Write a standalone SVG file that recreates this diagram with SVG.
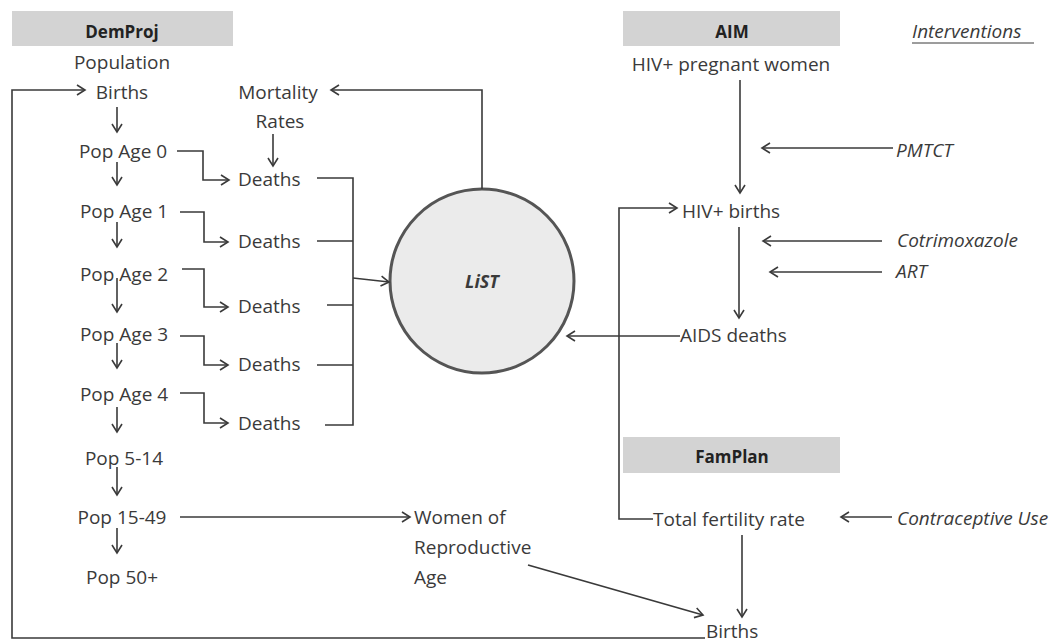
<svg xmlns="http://www.w3.org/2000/svg" width="1063" height="644" viewBox="0 0 1063 644">
<style>
text{font-family:"Open Sans","Liberation Sans",sans-serif;font-size:19px;fill:#3a3a3a}
.c{text-anchor:middle}
.h{font-weight:bold;font-size:17px;fill:#222}
.i{font-style:italic}
.hdr{fill:#d3d3d3}
.ln{fill:none;stroke:#3a3a3a;stroke-width:1.6}
</style>
<defs>
<marker id="a" markerUnits="userSpaceOnUse" markerWidth="12" markerHeight="14" refX="9" refY="6" orient="auto">
<path d="M1,1 L9,6 L1,11" fill="none" stroke="#3a3a3a" stroke-width="1.6"/>
</marker>
</defs>
<rect width="1063" height="644" fill="#fff"/>
<g id="demproj"><rect class="hdr" x="12" y="11" width="221" height="35"/><text class="c h" x="122" y="38">DemProj</text></g>
<g id="aim"><rect class="hdr" x="623" y="11" width="217" height="35"/><text class="c h" x="732" y="38">AIM</text></g>
<g id="famplan"><rect class="hdr" x="623" y="437" width="217" height="36"/><text class="c h" x="732" y="463">FamPlan</text></g>
<g id="interventions"><text class="i" x="912" y="38">Interventions</text><line x1="912" y1="43" x2="1034" y2="43" stroke="#3a3a3a" stroke-width="1"/></g>
<g id="population"><text class="c" x="122" y="69">Population</text></g>
<g id="births-top"><text class="c" x="122" y="99">Births</text></g>
<g id="pop0"><text class="c" x="123" y="158">Pop Age 0</text></g>
<g id="pop1"><text class="c" x="124" y="218">Pop Age 1</text></g>
<g id="pop2"><text class="c" x="124" y="281">Pop Age 2</text></g>
<g id="pop3"><text class="c" x="124" y="341">Pop Age 3</text></g>
<g id="pop4"><text class="c" x="124" y="401">Pop Age 4</text></g>
<g id="pop5-14"><text class="c" x="124" y="465">Pop 5-14</text></g>
<g id="pop15-49"><text class="c" x="122" y="524">Pop 15-49</text></g>
<g id="pop50"><text class="c" x="122" y="584">Pop 50+</text></g>
<g id="mortality"><text class="c" x="278" y="99">Mortality</text><text class="c" x="280" y="128">Rates</text></g>
<g id="deaths0"><text x="238" y="186">Deaths</text></g>
<g id="deaths1"><text x="238" y="248">Deaths</text></g>
<g id="deaths2"><text x="238" y="313">Deaths</text></g>
<g id="deaths3"><text x="238" y="371">Deaths</text></g>
<g id="deaths4"><text x="238" y="430">Deaths</text></g>
<g id="list"><circle cx="482" cy="281" r="92" fill="#ebebeb" stroke="#555" stroke-width="3"/><text class="c i" x="482" y="288" style="font-weight:bold;font-size:18px">LiST</text></g>
<g id="women"><text x="414" y="524">Women of</text><text x="414" y="554">Reproductive</text><text x="414" y="584">Age</text></g>
<g id="births-bottom"><text x="706" y="638">Births</text></g>
<g id="hivpreg"><text class="c" x="731" y="71">HIV+ pregnant women</text></g>
<g id="pmtct"><text class="i" x="896" y="157">PMTCT</text></g>
<g id="hivbirths"><text x="682" y="218">HIV+ births</text></g>
<g id="cotrim"><text class="i" x="897" y="247">Cotrimoxazole</text></g>
<g id="art"><text class="i" x="896" y="278">ART</text></g>
<g id="aids"><text x="680" y="342">AIDS deaths</text></g>
<g id="tfr"><text x="653" y="526">Total fertility rate</text></g>
<g id="contra"><text class="i" x="897" y="525">Contraceptive Use</text></g>
<g id="connectors">
<path class="ln" d="M705,638 H12 V90 H85" marker-end="url(#a)"/>
<path class="ln" d="M117,107 V132" marker-end="url(#a)"/>
<path class="ln" d="M117,162 V185" marker-end="url(#a)"/>
<path class="ln" d="M117,222 V247" marker-end="url(#a)"/>
<path class="ln" d="M117,278 V312" marker-end="url(#a)"/>
<path class="ln" d="M117,343 V368" marker-end="url(#a)"/>
<path class="ln" d="M117,407 V432" marker-end="url(#a)"/>
<path class="ln" d="M117,467 V495" marker-end="url(#a)"/>
<path class="ln" d="M117,528 V553" marker-end="url(#a)"/>
<path class="ln" d="M273,134 V166" marker-end="url(#a)"/>
<path class="ln" d="M177,151 H203 V180 H229" marker-end="url(#a)"/>
<path class="ln" d="M180,212 H204 V242 H228" marker-end="url(#a)"/>
<path class="ln" d="M182,269 H204 V307 H228" marker-end="url(#a)"/>
<path class="ln" d="M180,336 H204 V365 H228" marker-end="url(#a)"/>
<path class="ln" d="M180,393 H204 V423 H228" marker-end="url(#a)"/>
<path class="ln" d="M317,178 H353 V425 H325 M317,241 H353 M327,305 H353 M317,365 H353"/>
<path class="ln" d="M353,278 L389,282" marker-end="url(#a)"/>
<path class="ln" d="M482,189 V90 H331" marker-end="url(#a)"/>
<path class="ln" d="M180,517 H410" marker-end="url(#a)"/>
<path class="ln" d="M528,565 L703,615" marker-end="url(#a)"/>
<path class="ln" d="M740,80 V193" marker-end="url(#a)"/>
<path class="ln" d="M893,148 H762" marker-end="url(#a)"/>
<path class="ln" d="M653,519 H619 V208 H677" marker-end="url(#a)"/>
<path class="ln" d="M739,227 V318" marker-end="url(#a)"/>
<path class="ln" d="M882,241 H763" marker-end="url(#a)"/>
<path class="ln" d="M882,272 H770" marker-end="url(#a)"/>
<path class="ln" d="M680,336 H567" marker-end="url(#a)"/>
<path class="ln" d="M742,535 V617" marker-end="url(#a)"/>
<path class="ln" d="M892,517 H841" marker-end="url(#a)"/>
</g>
</svg>
